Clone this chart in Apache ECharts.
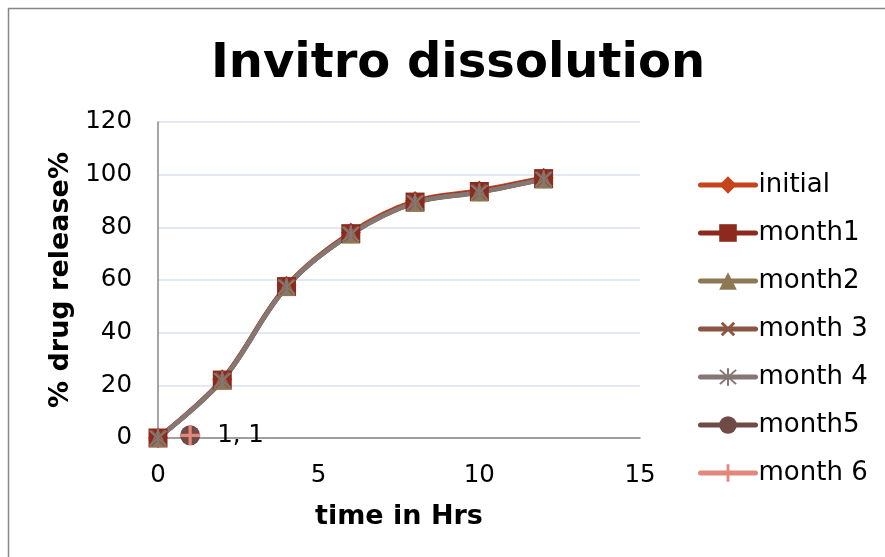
<!DOCTYPE html>
<html>
<head>
<meta charset="utf-8">
<script src="https://cdn.jsdelivr.net/npm/echarts@6/dist/echarts.min.js"></script>
<style>
  html, body { margin: 0; padding: 0; background: #fff; }
  #chart { width: 885px; height: 557px; }
</style>
</head>
<body>
<div id="chart"></div>
<script>
// Sampling times (hours)
const timeHrs = [0, 2, 4, 6, 8, 10, 12];

// % drug released at each sampling time
const initial = [0, 22.3, 57.8, 78.0, 90.0, 94.0, 98.8];
const month1  = [0, 22.0, 57.5, 77.6, 89.6, 93.6, 98.5];
const month2  = [0, 21.8, 57.3, 77.3, 89.3, 93.2, 98.2];
const month3  = [0, 22.0, 57.4, 77.5, 89.4, 93.4, 98.3];
const month4  = [0, 21.9, 57.4, 77.4, 89.4, 93.3, 98.3];
// single (x, y) points
const month5  = [[1, 1]];
const month6  = [[1, 1]];

const yTicks = [0, 20, 40, 60, 80, 100, 120];
const xTicks = [0, 5, 10, 15];

const pair = (xs, ys) => xs.map((x, i) => [x, ys[i]]);

const PLUS = 'path://M4.2,0h1.6v4.2h4.2v1.6h-4.2v4.2h-1.6v-4.2h-4.2v-1.6h4.2z';
const ASTER = 'path://M4.5,0h1v10h-1z M0.6,1.3L1.3,0.6L9.4,8.7L8.7,9.4z M8.7,0.6L9.4,1.3L1.3,9.4L0.6,8.7z';

const seriesDefs = [
  { name: 'initial', data: pair(timeHrs, initial), color: '#C5441C', symbol: 'diamond', size: 20 },
  { name: 'month1',  data: pair(timeHrs, month1),  color: '#8C2A1E', symbol: 'rect', size: 19 },
  { name: 'month2',  data: pair(timeHrs, month2),  color: '#8E7852', symbol: 'triangle', size: 18 },
  { name: 'month 3', data: pair(timeHrs, month3),  color: '#8A5443', symbol: PLUS, size: 20, rotate: 45 },
  { name: 'month 4', data: pair(timeHrs, month4),  color: '#857774', symbol: ASTER, size: 18 },
  { name: 'month5',  data: month5, color: '#6F4A47', symbol: 'circle', size: 20 },
  { name: 'month 6', data: month6, color: '#E3877A', symbol: PLUS, size: 20, label: true }
];

const chart = echarts.init(document.getElementById('chart'), null, { renderer: 'canvas' });

chart.setOption({
  backgroundColor: '#ffffff',
  animation: false,
  title: {
    text: 'Invitro dissolution',
    left: 453,
    top: 36,
    textAlign: 'center',
    textStyle: {
      fontFamily: 'DejaVu Sans',
      fontWeight: 'bold',
      fontSize: 48,
      color: '#000'
    }
  },
  graphic: [{
    type: 'rect',
    shape: { x: 8.5, y: 8.5, width: 900, height: 600 },
    style: { fill: 'none', stroke: '#878787', lineWidth: 1.5 },
    silent: true
  }],
  legend: {
    orient: 'vertical',
    left: 693,
    top: 167,
    itemWidth: 55,
    itemHeight: 22,
    itemGap: 22,
    lineStyle: { width: 5, cap: 'round' },
    textStyle: { fontFamily: 'DejaVu Sans', fontSize: 26, lineHeight: 26, color: '#000', padding: [0, 0, 0, -2] },
    data: seriesDefs.map(s => s.name)
  },
  grid: { left: 158, top: 122, width: 482, height: 316 },
  xAxis: {
    type: 'value',
    min: 0, max: 15, interval: 5,
    name: 'time in Hrs',
    nameLocation: 'middle',
    nameGap: 65,
    nameTextStyle: { fontFamily: 'DejaVu Sans', fontWeight: 'bold', fontSize: 27, color: '#000' },
    axisLine: { show: true, lineStyle: { color: '#878787', width: 1.5 } },
    axisTick: { show: false },
    splitLine: { show: false },
    axisLabel: {
      fontFamily: 'DejaVu Sans', fontSize: 24.5, color: '#000', margin: 25,
      formatter: v => xTicks.includes(v) ? String(v) : ''
    }
  },
  yAxis: {
    type: 'value',
    min: 0, max: 120, interval: 20,
    name: '% drug release%',
    nameLocation: 'middle',
    nameGap: 83,
    nameTextStyle: { fontFamily: 'DejaVu Sans', fontWeight: 'bold', fontSize: 27, color: '#000' },
    axisLine: { show: true, lineStyle: { color: '#878787', width: 1.5 } },
    axisTick: { show: false },
    splitLine: { show: true, lineStyle: { color: '#D8E1F1', width: 1.5 } },
    axisLabel: {
      fontFamily: 'DejaVu Sans', fontSize: 24.5, color: '#000', margin: 26,
      formatter: v => yTicks.includes(v) ? String(v) : ''
    }
  },
  series: seriesDefs.map(s => ({
    name: s.name,
    type: 'line',
    data: s.data,
    smooth: 0.35,
    symbol: s.symbol,
    symbolSize: s.size,
    symbolRotate: s.rotate || 0,
    showAllSymbol: true,
    lineStyle: { color: s.color, width: 4.5, cap: 'round' },
    itemStyle: { color: s.color, borderWidth: 0 },
    label: s.label ? {
      show: true,
      position: 'right',
      distance: 17,
      fontFamily: 'DejaVu Sans',
      fontSize: 24.5,
      color: '#000',
      formatter: p => p.value[0] + ', ' + p.value[1]
    } : { show: false },
    emphasis: { disabled: true }
  }))
});
</script>
</body>
</html>
